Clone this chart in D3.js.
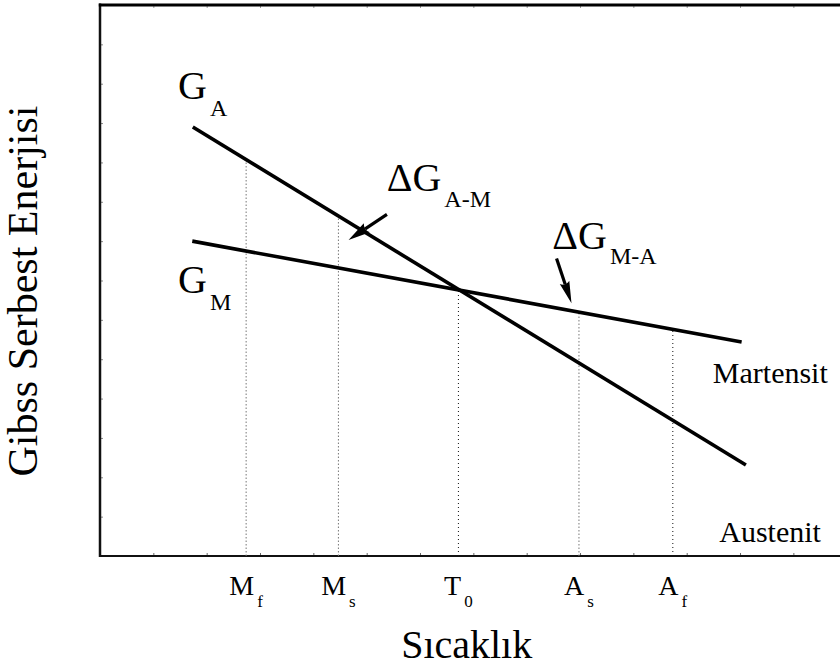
<!DOCTYPE html>
<html>
<head>
<meta charset="utf-8">
<script src="https://cdn.jsdelivr.net/npm/d3@7/dist/d3.min.js"></script>
<style>
  html, body { margin: 0; padding: 0; background: #fff; }
  svg { display: block; font-family: "Liberation Serif", "Times New Roman", serif; }
</style>
</head>
<body>
<svg id="chart" width="840" height="668"></svg>
<script>
// Free-energy lines (temperature, energy) in arbitrary units
const austenite = [[1.74, 10.90], [12.11, 2.31]];
const martensite = [[1.73, 8.00], [12.03, 5.44]];

// Characteristic temperatures: main letter, subscript, position
const tempLetters = ["M", "M", "T", "A", "A"];
const tempSubs = ["f", "s", "0", "s", "f"];
const tempValues = [2.74, 4.47, 6.72, 8.98, 10.74];
// which curve each dotted guide rises to
const tempCurve = ["A", "A", "X", "M", "M"];

// Axis tick positions (unlabelled)
const xTicks = d3.range(0, 15);
const yTicks = d3.range(0, 15);

// Annotation arrows: [from, to]
const arrowAM = [[5.38, 8.68], [4.66, 8.03]];
const arrowMA = [[8.56, 7.56], [8.84, 6.42]];

const svg = d3.select("#chart");
const x = d3.scaleLinear().domain([0, 14]).range([100, 846.7]);
const y = d3.scaleLinear().domain([0, 14]).range([556, 5]);

function lineAt(seg, t) {
  const [[x0, y0], [x1, y1]] = seg;
  return y0 + (t - x0) * (y1 - y0) / (x1 - x0);
}
function crossing() {
  const sa = (austenite[1][1] - austenite[0][1]) / (austenite[1][0] - austenite[0][0]);
  const sm = (martensite[1][1] - martensite[0][1]) / (martensite[1][0] - martensite[0][0]);
  const t = (martensite[0][1] - austenite[0][1] + sa * austenite[0][0] - sm * martensite[0][0]) / (sa - sm);
  return lineAt(austenite, t);
}

// ticks (tiny, light) on bottom, top and left edges
svg.append("g").attr("transform", `translate(0,${y(0)})`)
  .call(d3.axisBottom(x).tickValues(xTicks).tickSize(-3).tickFormat(""))
  .call(g => g.select(".domain").remove())
  .selectAll("line").attr("stroke", "#666");
svg.append("g").attr("transform", `translate(0,${y(14)})`)
  .call(d3.axisTop(x).tickValues(xTicks).tickSize(-3).tickFormat(""))
  .call(g => g.select(".domain").remove())
  .selectAll("line").attr("stroke", "#999");
svg.append("g").attr("transform", `translate(${x(0)},0)`)
  .call(d3.axisLeft(y).tickValues(yTicks).tickSize(-3).tickFormat(""))
  .call(g => g.select(".domain").remove())
  .selectAll("line").attr("stroke", "#888");

// frame: bottom, left, top
svg.append("line").attr("x1", x(0)).attr("x2", 840).attr("y1", y(0)).attr("y2", y(0))
  .attr("stroke", "#111").attr("stroke-width", 2);
svg.append("line").attr("x1", x(0)).attr("x2", x(0)).attr("y1", y(14) - 1.5).attr("y2", y(0) + 1)
  .attr("stroke", "#111").attr("stroke-width", 2.5);
svg.append("line").attr("x1", x(0) - 1.2).attr("x2", 840).attr("y1", y(14)).attr("y2", y(14))
  .attr("stroke", "#000").attr("stroke-width", 3);

// dotted guides from the axis up to the curves
const yCross = crossing();
tempValues.forEach((t, i) => {
  const c = tempCurve[i];
  const top = c === "A" ? lineAt(austenite, t) : c === "M" ? lineAt(martensite, t) : yCross;
  const dark = c === "X" || i === 4;
  svg.append("line")
    .attr("x1", x(t)).attr("x2", x(t))
    .attr("y1", y(0)).attr("y2", y(top))
    .attr("stroke", dark ? "#111" : "#777")
    .attr("stroke-width", 1)
    .attr("stroke-dasharray", dark ? "1,3" : "1.5,2");
});

// free-energy curves
const line = d3.line().x(d => x(d[0])).y(d => y(d[1]));
[austenite, martensite].forEach(seg => {
  svg.append("path").attr("d", line(seg))
    .attr("fill", "none").attr("stroke", "#000").attr("stroke-width", 3.6);
});

// arrows with slender filled heads
function arrow(seg, headLen, headW) {
  const [x0, y0] = [x(seg[0][0]), y(seg[0][1])];
  const [x1, y1] = [x(seg[1][0]), y(seg[1][1])];
  const dx = x1 - x0, dy = y1 - y0, L = Math.hypot(dx, dy);
  const ux = dx / L, uy = dy / L, nx = -uy, ny = ux;
  const bx = x1 - ux * headLen, by = y1 - uy * headLen;
  svg.append("line").attr("x1", x0).attr("y1", y0).attr("x2", bx + ux * 2).attr("y2", by + uy * 2)
    .attr("stroke", "#000").attr("stroke-width", 3.2);
  svg.append("path")
    .attr("d", `M${x1},${y1} L${bx + nx * headW / 2},${by + ny * headW / 2} Q${bx + ux * 4},${by + uy * 4} ${bx - nx * headW / 2},${by - ny * headW / 2} Z`)
    .attr("fill", "#000");
}
arrow(arrowAM, 22, 11);
arrow(arrowMA, 22, 10);

// labels with subscripts
function subLabel(px, py, main, sub, size, subSize, dy, anchor) {
  const t = svg.append("text").attr("x", px).attr("y", py)
    .attr("font-size", size).attr("text-anchor", anchor || "start").attr("fill", "#000");
  t.append("tspan").text(main);
  t.append("tspan").attr("dx", 3).attr("dy", dy).attr("font-size", subSize).text(sub);
  return t;
}
subLabel(x(1.463), y(11.61), "G", "A", 40, 24, 17);
subLabel(x(1.463), y(6.68), "G", "M", 40, 24, 17);
subLabel(x(5.376), y(9.28), "ΔG", "A-M", 40, 24, 16);
subLabel(x(8.48), y(7.79), "ΔG", "M-A", 40, 24, 15);

svg.append("text").attr("x", x(11.49)).attr("y", y(4.395))
  .attr("font-size", 30).text("Martensit");
svg.append("text").attr("x", x(11.61)).attr("y", y(0.368))
  .attr("font-size", 30).text("Austenit");

// temperature labels under the axis
tempValues.forEach((t, i) => {
  subLabel(x(t), 595, tempLetters[i], tempSubs[i], 28, 17, 12, "middle");
});

// axis titles
svg.append("text").attr("x", 466.7).attr("y", 658).attr("text-anchor", "middle")
  .attr("font-size", 40).text("Sıcaklık");
svg.append("text").attr("transform", "translate(37,291) rotate(-90)")
  .attr("text-anchor", "middle").attr("font-size", 42).text("Gibss Serbest Enerjisi");
</script>
</body>
</html>
